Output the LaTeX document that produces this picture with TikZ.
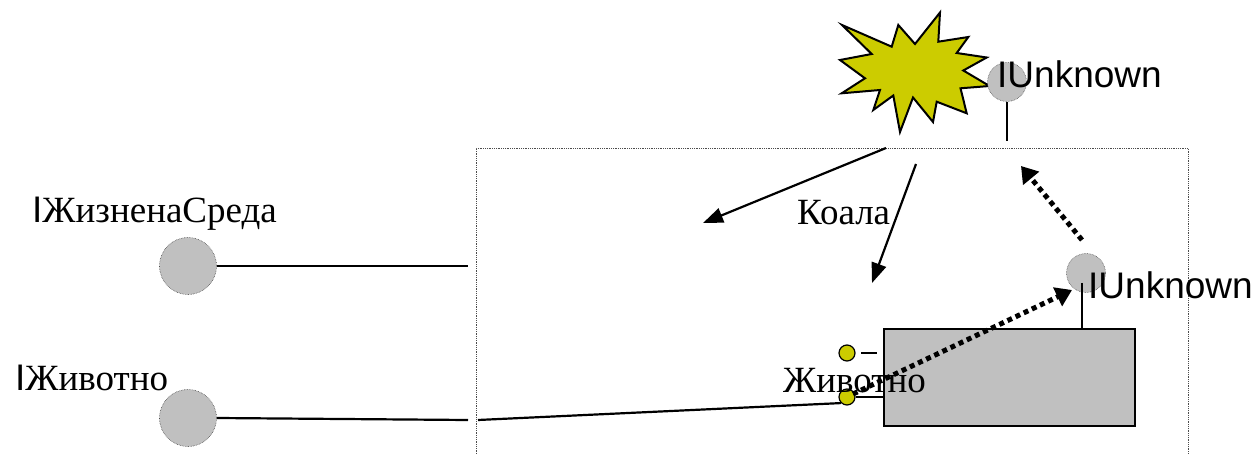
\documentclass[tikz,border=0pt]{standalone}
\usepackage{fontspec}
\setmainfont{Liberation Serif}
\newfontfamily\ifacefont{Liberation Sans}
\usetikzlibrary{arrows.meta}
\definecolor{iface}{HTML}{C0C0C0}
\definecolor{burst}{HTML}{CCCC00}
\tikzset{
  lollipop/.style={circle, fill=iface, draw=black!70, densely dotted, line width=0.6pt, minimum size=39pt, inner sep=0pt},
  biglollipop/.style={lollipop, minimum size=57pt},
  pin/.style={circle, fill=burst, draw=black, line width=1.2pt, minimum size=16pt, inner sep=0pt},
  wire/.style={line width=2.2pt},
  ptr/.style={line width=2.2pt, -{Triangle[length=20pt,width=15pt]}},
  qiptr/.style={line width=5pt, dash pattern=on 5pt off 4pt, -{Triangle[length=16pt,width=20pt]}},
  serlabel/.style={anchor=base west, inner sep=0pt, font=\fontsize{37pt}{40pt}\selectfont},
  ifacelabel/.style={anchor=base west, inner sep=0pt, font=\ifacefont\fontsize{37pt}{40pt}\selectfont},
}
\newcommand{\ifI}{{\ifacefont I}}
\begin{document}
\begin{tikzpicture}[x=1pt, y=-1pt]
\useasboundingbox (0,0) rectangle (1256,454);

% component boundary (open at the bottom)
\draw[densely dotted, line width=0.8pt, black!70] (476,454) -- (476,148) -- (1188,148) -- (1188,454);

% burst shape
\draw[fill=burst, line width=2pt, line join=miter]
  (842,25) -- (891.7,46.7) -- (898.3,25) -- (915,44) -- (940,12.5) -- (938.3,41.7)
  -- (968.3,37) -- (956.7,53) -- (986.7,57.5) -- (963.3,70.5) -- (989.5,86) -- (960.5,88.3)
  -- (966.7,113.3) -- (936.7,101.7) -- (933,122) -- (913,97.5) -- (900,132) -- (893.3,95.5)
  -- (873.3,110) -- (880,90) -- (841.7,93.3) -- (865,78.3) -- (840,60) -- (871.7,54) -- cycle;

% top IUnknown
\node[lollipop] (topiu) at (1007,82) {};
\node[ifacelabel] (topiulbl) at (997,88) {IUnknown};
\coordinate (topstem) at (1007,141);
\draw[wire] (topiu.south) -- (topstem);

% outer interfaces
\node[biglollipop] (envc) at (188,266) {};
\node[serlabel] (envlbl) at (32,223) {\ifI ЖизненаСреда};
\coordinate (envend) at (468,266);
\draw[wire] (envc.east) -- (envend);

\node[biglollipop] (anic) at (188,418) {};
\node[serlabel] (anilbl) at (15,390) {\ifI Животно};
\coordinate (aniend) at (468,420);
\draw[wire] (anic.east) -- (aniend);

% arrows from the burst
\coordinate (a1s) at (886,148);
\coordinate (a1e) at (703,223);
\draw[ptr] (a1s) -- (a1e);
\coordinate (a2s) at (916,164);
\coordinate (a2e) at (872,283);
\draw[ptr] (a2s) -- (a2e);
\node[serlabel] (koala) at (797,225) {Коала};

% inner object
\node[draw, fill=iface, line width=2.4pt, minimum width=251pt, minimum height=97pt, inner sep=0pt] (obj) at (1009.5,377.5) {};
\node[lollipop] (inniu) at (1086,273) {};
\coordinate (innstem) at (1082,283);
\draw[wire] (innstem) -- (innstem |- obj.north);
\node[ifacelabel] (inniulbl) at (1088,299) {IUnknown};

\node[pin] (pin1) at (847,353) {};
\node[pin] (pin2) at (847,397) {};
\coordinate (pin1w) at (861,353);
\coordinate (pin1e) at (877,353);
\draw[wire] (pin1w) -- (pin1e);
\draw[wire] (pin2.east) -- (pin2.east -| obj.west);

\coordinate (anistart) at (478,420);
\draw[wire] (anistart) -- (pin2.south west);

\node[serlabel] (anipin) at (783,392) {Животно};

% QueryInterface paths
\coordinate (q1s) at (853,394);
\coordinate (q1e) at (1072,290);
\draw[qiptr] (q1s) -- (q1e);
\coordinate (q2s) at (1082,240);
\coordinate (q2e) at (1021,166);
\draw[qiptr] (q2s) -- (q2e);
\end{tikzpicture}
\end{document}
